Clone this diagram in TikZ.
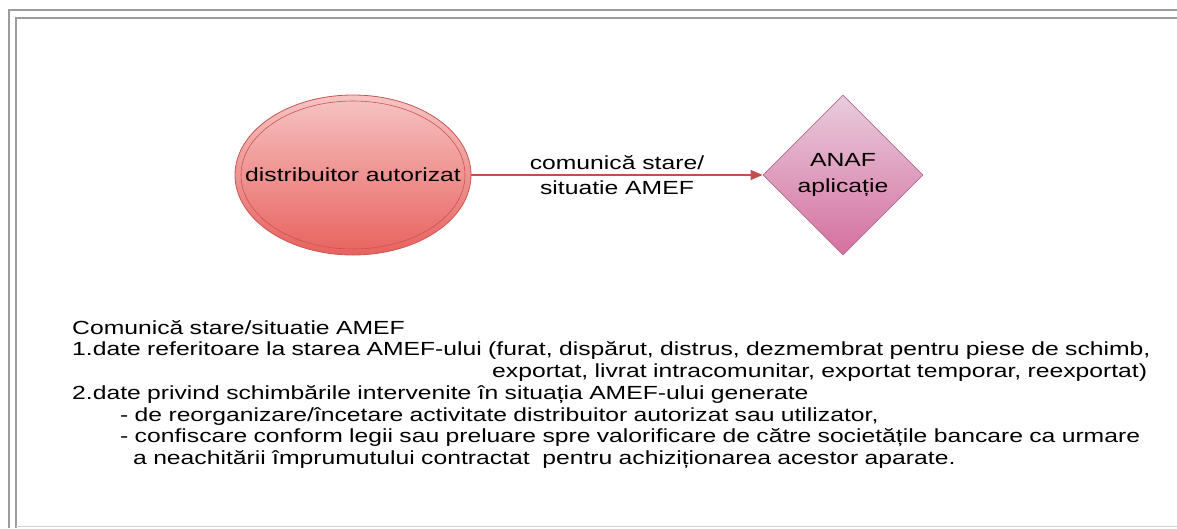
\documentclass[tikz,border=0pt]{standalone}
\usepackage{fontspec}
\setmainfont[FakeStretch=1.3]{Liberation Sans}
\usetikzlibrary{arrows.meta,shapes.geometric}

\definecolor{framegray}{HTML}{9C9C9C}
\definecolor{edgered}{HTML}{C0504D}
\definecolor{ovaltop}{HTML}{F6C4C4}
\definecolor{ovalbot}{HTML}{E8625E}
\definecolor{ovaldraw}{HTML}{C85652}
\definecolor{rhombtop}{HTML}{E8CCDD}
\definecolor{rhombbot}{HTML}{D5709F}
\definecolor{rhombdraw}{HTML}{B8699A}

\begin{document}
\begin{tikzpicture}[x=1pt,y=-1pt,font=\fontsize{19}{21.7}\selectfont]
  \tikzstyle{actor}=[ellipse, draw=ovaldraw, line width=0.8pt, top color=ovaltop, bottom color=ovalbot,
                     minimum width=236pt, minimum height=160pt, inner sep=0pt]
  \tikzstyle{system}=[diamond, aspect=1, draw=rhombdraw, line width=0.8pt, top color=rhombtop, bottom color=rhombbot,
                      minimum size=160pt, inner sep=0pt, align=center]
  \tikzstyle{flow}=[draw=edgered, line width=1.3pt, -{Triangle[length=12pt,width=10pt]}]
  \useasboundingbox (0,0) rectangle (1177,528);
  % frame
  \draw[framegray, line width=2pt] (1177,10) -- (8.5,10) -- (8.5,528);
  \draw[framegray, line width=2pt] (1177,17.5) -- (16,17.5) -- (16,528);
  \draw[gray!35, line width=1.5pt] (16,526.5) -- (1177,526.5);
  % diagram
  \node[actor] (dist) at (353,175) {};
  \draw[ovaldraw, line width=0.6pt] (dist.center) ellipse [x radius=112pt, y radius=74pt];
  \node at (dist.center) {distribuitor autorizat};
  \node[system] (anaf) at (843,175) {ANAF\\[5pt]aplicație};
  \draw[flow] (dist) -- node[align=center] {comunică stare/\\[3pt]situatie AMEF} (anaf);
  % note
  \node[anchor=north west, inner sep=0pt, text width=1100pt, align=left] (note) at (72,320) {%
    Comunică stare/situatie AMEF\\
    1.date referitoare la starea AMEF-ului (furat, dispărut, distrus, dezmembrat pentru piese de schimb,\\
    \hspace*{420pt}exportat, livrat intracomunitar, exportat temporar, reexportat)\\
    2.date privind schimbările intervenite în situația AMEF-ului generate\\
    \hspace*{48pt}- de reorganizare/încetare activitate distribuitor autorizat sau utilizator,\\
    \hspace*{48pt}- confiscare conform legii sau preluare spre valorificare de către societățile bancare ca urmare\\
    \hspace*{61pt}a neachitării împrumutului contractat \ pentru achiziționarea acestor aparate.};
\end{tikzpicture}
\end{document}
